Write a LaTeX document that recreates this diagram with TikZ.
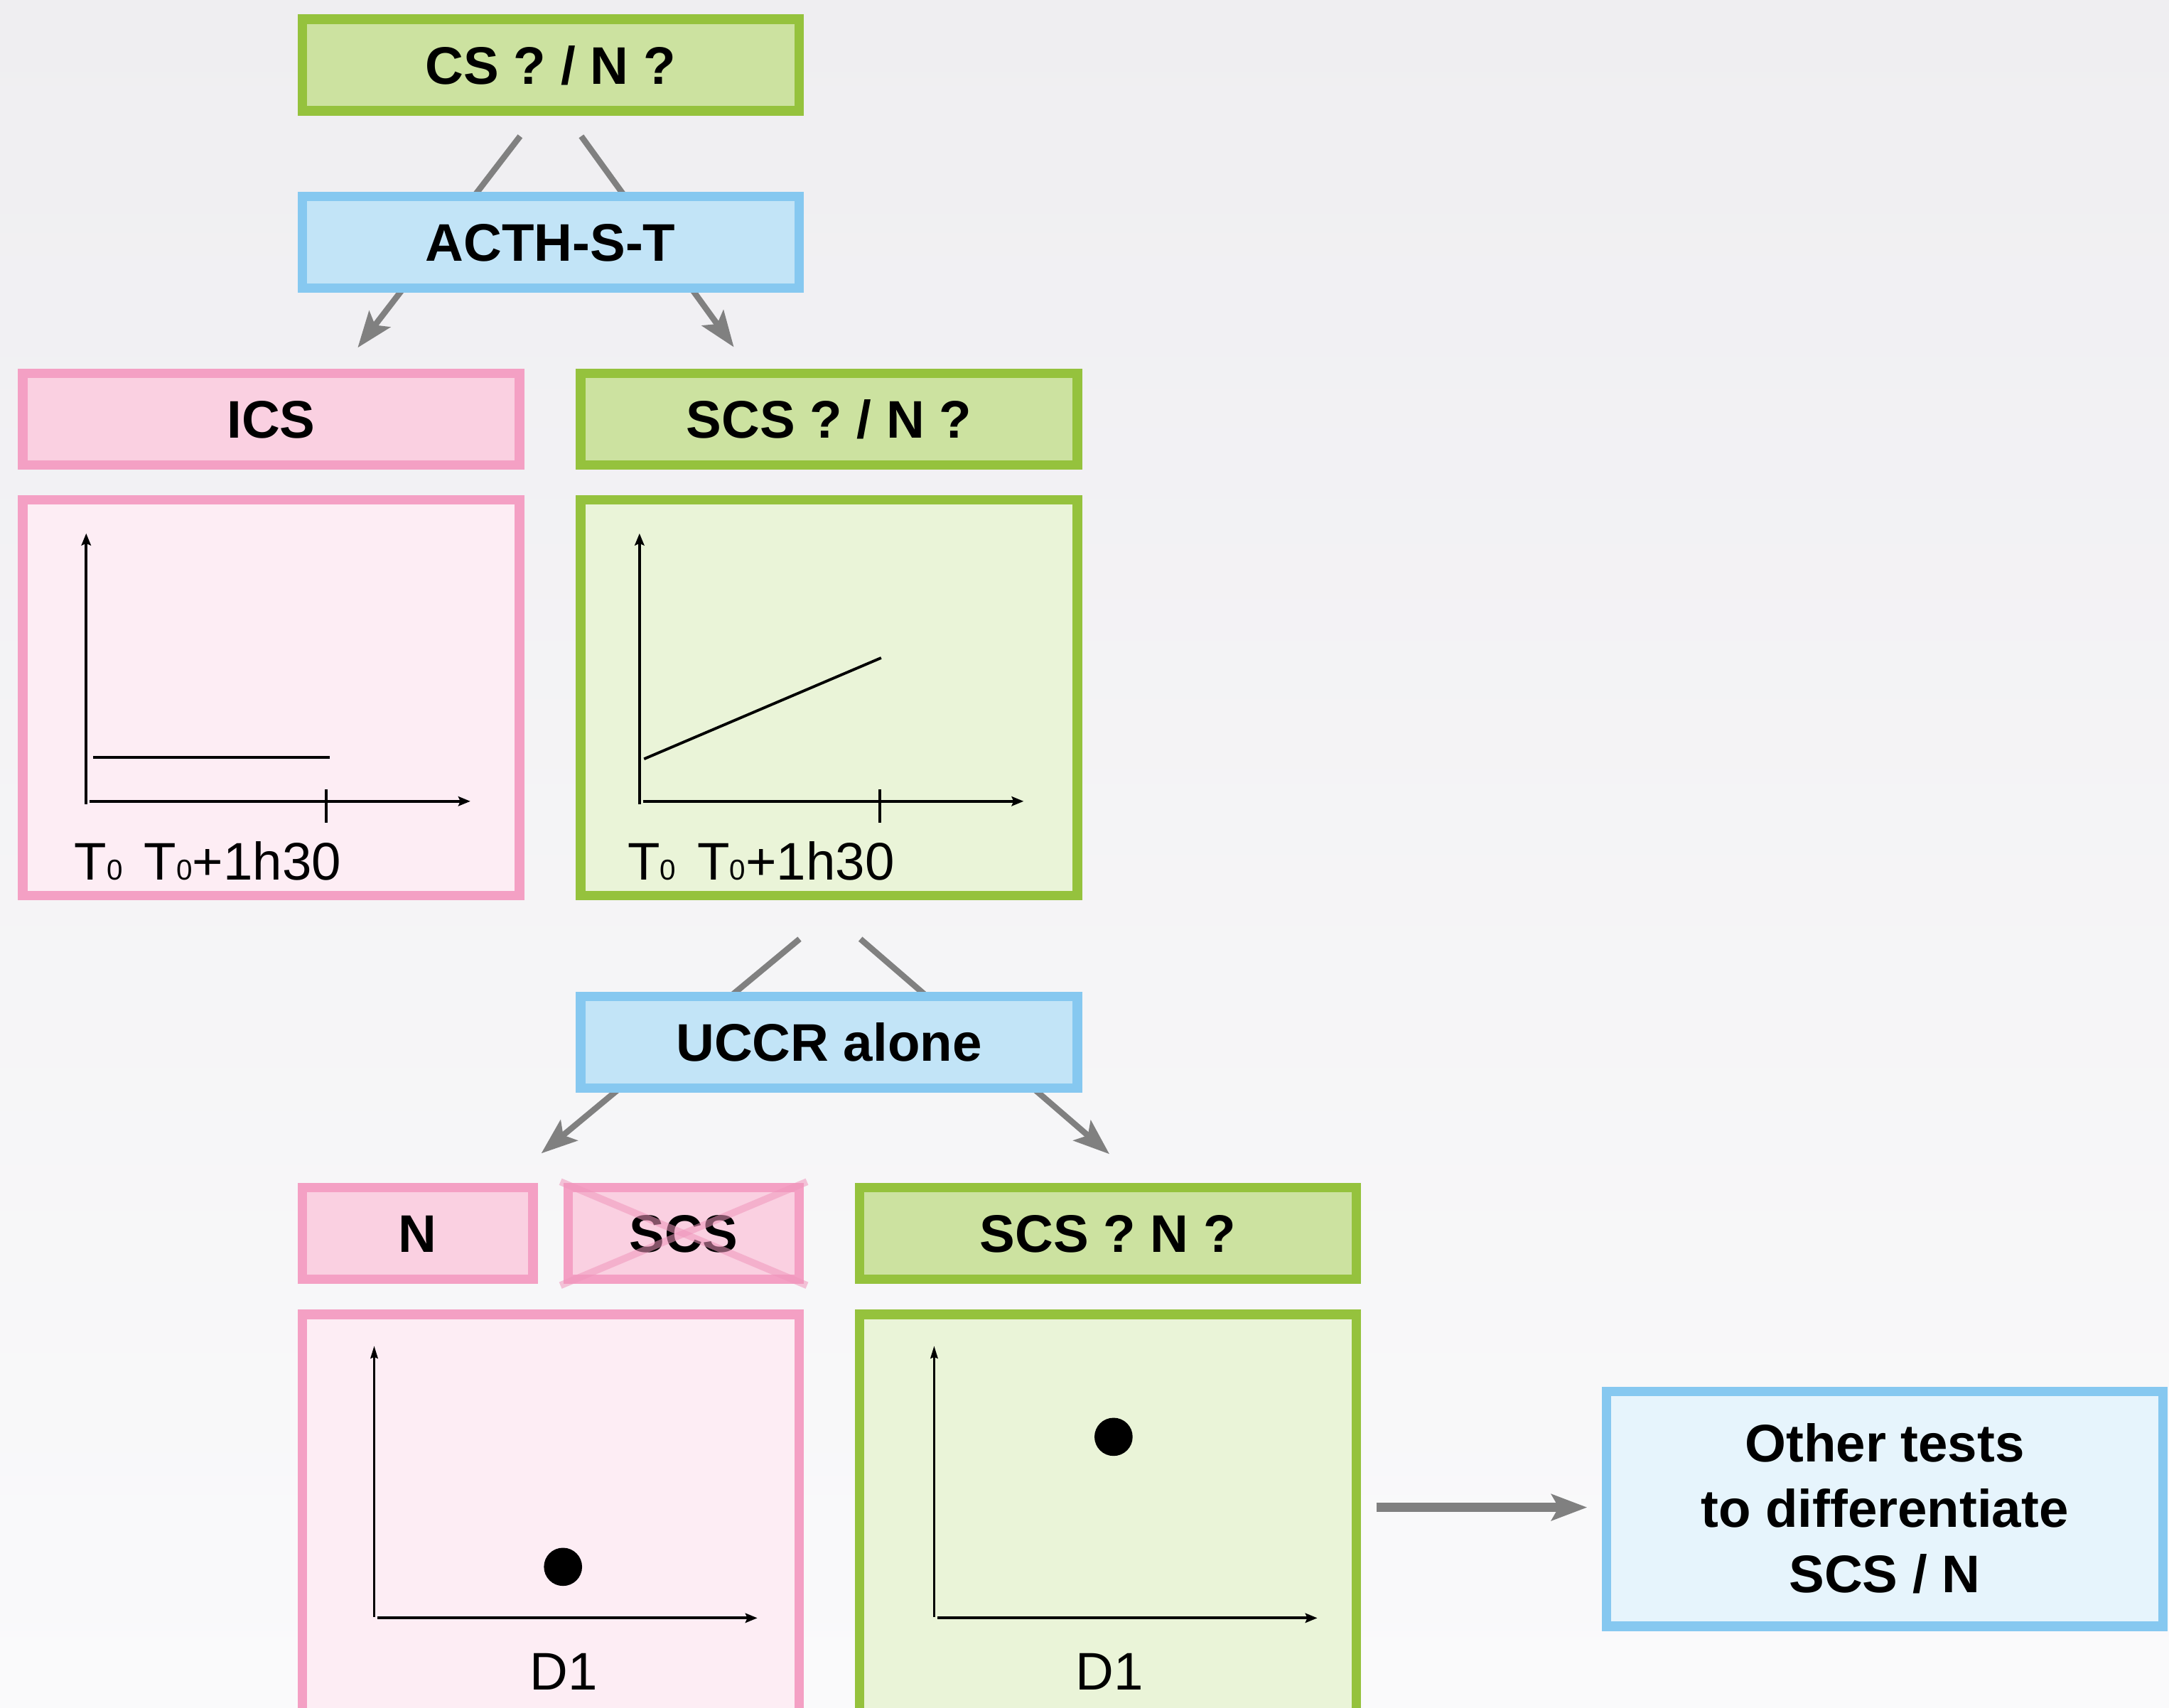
\documentclass[tikz,border=0pt]{standalone}
\usepackage{fontspec}
\setmainfont{Liberation Sans}
\usetikzlibrary{positioning,arrows.meta}

\definecolor{greenline}{HTML}{95C23D}
\definecolor{greenfill}{HTML}{CCE2A0}
\definecolor{greenpale}{HTML}{EAF4D8}
\definecolor{blueline}{HTML}{86C8F0}
\definecolor{bluefill}{HTML}{C2E4F7}
\definecolor{bluepale}{HTML}{E6F4FC}
\definecolor{pinkline}{HTML}{F4A0C4}
\definecolor{pinkfill}{HTML}{FAD0E1}
\definecolor{pinkpale}{HTML}{FDEDF4}
\definecolor{crosspink}{HTML}{F096BC}
\definecolor{arrowgray}{HTML}{808080}
\definecolor{bgtop}{HTML}{EFEEF1}
\definecolor{bgbottom}{HTML}{FAFAFB}

\newcommand{\tsub}[1]{{\fontsize{11.5}{12}\selectfont #1}}

\tikzset{
  box/.style={draw, line width=0.1324cm, minimum width=6.991cm, minimum height=1.289cm,
    inner sep=0pt, font=\fontsize{21.2}{26.2}\selectfont\bfseries,
    text height=15.2pt, text depth=0pt},
  greenbox/.style={box, draw=greenline, fill=greenfill},
  bluebox/.style={box, draw=blueline, fill=bluefill},
  pinkbox/.style={box, draw=pinkline, fill=pinkfill},
  halfbox/.style={pinkbox, minimum width=3.245cm},
  plotbox/.style={draw, line width=0.1324cm, minimum width=6.991cm, minimum height=5.571cm, inner sep=0pt},
  flow/.style={arrowgray, line width=0.084cm, -{Stealth[length=14.4pt,width=10.6pt,inset=3pt]}},
  axis/.style={line width=1.1pt, -{Stealth[length=4.8pt,width=3.8pt,inset=0.8pt]}},
  thinaxis/.style={line width=0.7pt, -{Stealth[length=5pt,width=3pt,inset=0.6pt]}},
  curve/.style={line width=1.1pt},
  ticklabel/.style={font=\fontsize{21.2}{24}\selectfont, inner sep=0pt},
  dot/.style={circle, fill=black, minimum size=0.537cm, inner sep=0pt},
  cross/.style={crosspink, opacity=0.55, line width=0.1cm, shorten <=-0.05cm, shorten >=-0.05cm}
}

\begin{document}
\begin{tikzpicture}[x=0.019464cm, y=-0.019464cm]
  \useasboundingbox (0,0) rectangle (1568,1235);
  \clip (0,0) rectangle (1568,1235);
  \shade[top color=bgtop, bottom color=bgbottom] (0,0) rectangle (1568,1235);

  % free ends of the flow arrows
  \coordinate (cs-l) at (376,98.5);
  \coordinate (cs-r) at (420.2,98.5);
  \coordinate (ics-in) at (258.6,251.4);
  \coordinate (scs-in) at (530.5,251);
  \coordinate (uccr-l) at (578,679);
  \coordinate (uccr-r) at (622,679);
  \coordinate (n-in) at (391.3,834);
  \coordinate (scsn-in) at (802,834.5);
  \coordinate (plot-out) at (995,1090);
  \coordinate (other-in) at (1147.4,1090);

  \draw[flow] (cs-l) -- (ics-in);
  \draw[flow] (cs-r) -- (scs-in);
  \draw[flow] (uccr-l) -- (n-in);
  \draw[flow] (uccr-r) -- (scsn-in);
  \draw[flow, line width=0.134cm, -{Stealth[length=14.2pt,width=10.4pt,inset=2.8pt]}] (plot-out) -- (other-in);

  % first test
  \node[greenbox] (cs) at (398,47) {CS ? / N ?};
  \node[bluebox, below=1.074cm of cs] (acth) {ACTH-S-T};
  \node[pinkbox] (ics) at (196,303) {ICS};
  \node[greenbox, right=0.728cm of ics] (scs) {SCS ? / N ?};
  \node[plotbox, draw=pinkline, fill=pinkpale, below=0.36cm of ics] (icsplot) {};
  \node[plotbox, draw=greenline, fill=greenpale, below=0.36cm of scs] (scsplot) {};

  % second test
  \node[bluebox, below=1.292cm of scsplot] (uccr) {UCCR alone};
  \node[halfbox] (nn) at (302,892) {N};
  \node[halfbox, right=0.366cm of nn] (scsx) {SCS};
  \node[greenbox, right=0.72cm of scsx] (scsn) {SCS ? N ?};
  \node[plotbox, draw=pinkline, fill=pinkpale, minimum height=6.1cm, anchor=north west]
    (nplot) at ([yshift=-0.362cm]nn.south west) {};
  \node[plotbox, draw=greenline, fill=greenpale, minimum height=6.1cm, below=0.362cm of scsn] (scsnplot) {};
  \node[draw=blueline, fill=bluepale, line width=0.1324cm, minimum width=7.828cm, minimum height=3.307cm,
    inner sep=0pt, align=center, font=\fontsize{21.2}{26.2}\selectfont\bfseries]
    (other) at (1362.5,1091) {Other tests\\to differentiate\\SCS / N};

  \draw[cross] (scsx.north west) -- (scsx.south east);
  \draw[cross] (scsx.south west) -- (scsx.north east);

  % time plots
  \foreach \dx in {0,400} {
    \draw[axis] ({62.3+\dx},581.4) -- ({62.3+\dx},385.7);
    \draw[axis] ({64.7+\dx},579.4) -- ({340+\dx},579.4);
    \draw[curve] ({236+\dx},571) -- ({236+\dx},595);
    \node[ticklabel, anchor=base west] (time\dx) at ({53.5+\dx},636.4)
      {T\tsub{0}\hspace{0.3cm}T\tsub{0}+1h30};
  }
  \draw[curve] (67.2,547.6) -- (238.3,547.6);
  \draw[curve] (465.6,548.8) -- (637,475.7);

  % D1 plots
  \foreach \ax/\lx/\px/\py in {270.5/407.5/407/1133, 675.3/802/805/1039} {
    \draw[thinaxis] (\ax,1169.3) -- (\ax,973.3);
    \draw[axis, line width=1.2pt] ({\ax+2.5},1170) -- ({\ax+277},1170);
    \node[dot] (dot\px) at (\px,\py) {};
    \node[ticklabel, anchor=base] (day\px) at (\lx,1221.8) {D1};
  }
\end{tikzpicture}
\end{document}
